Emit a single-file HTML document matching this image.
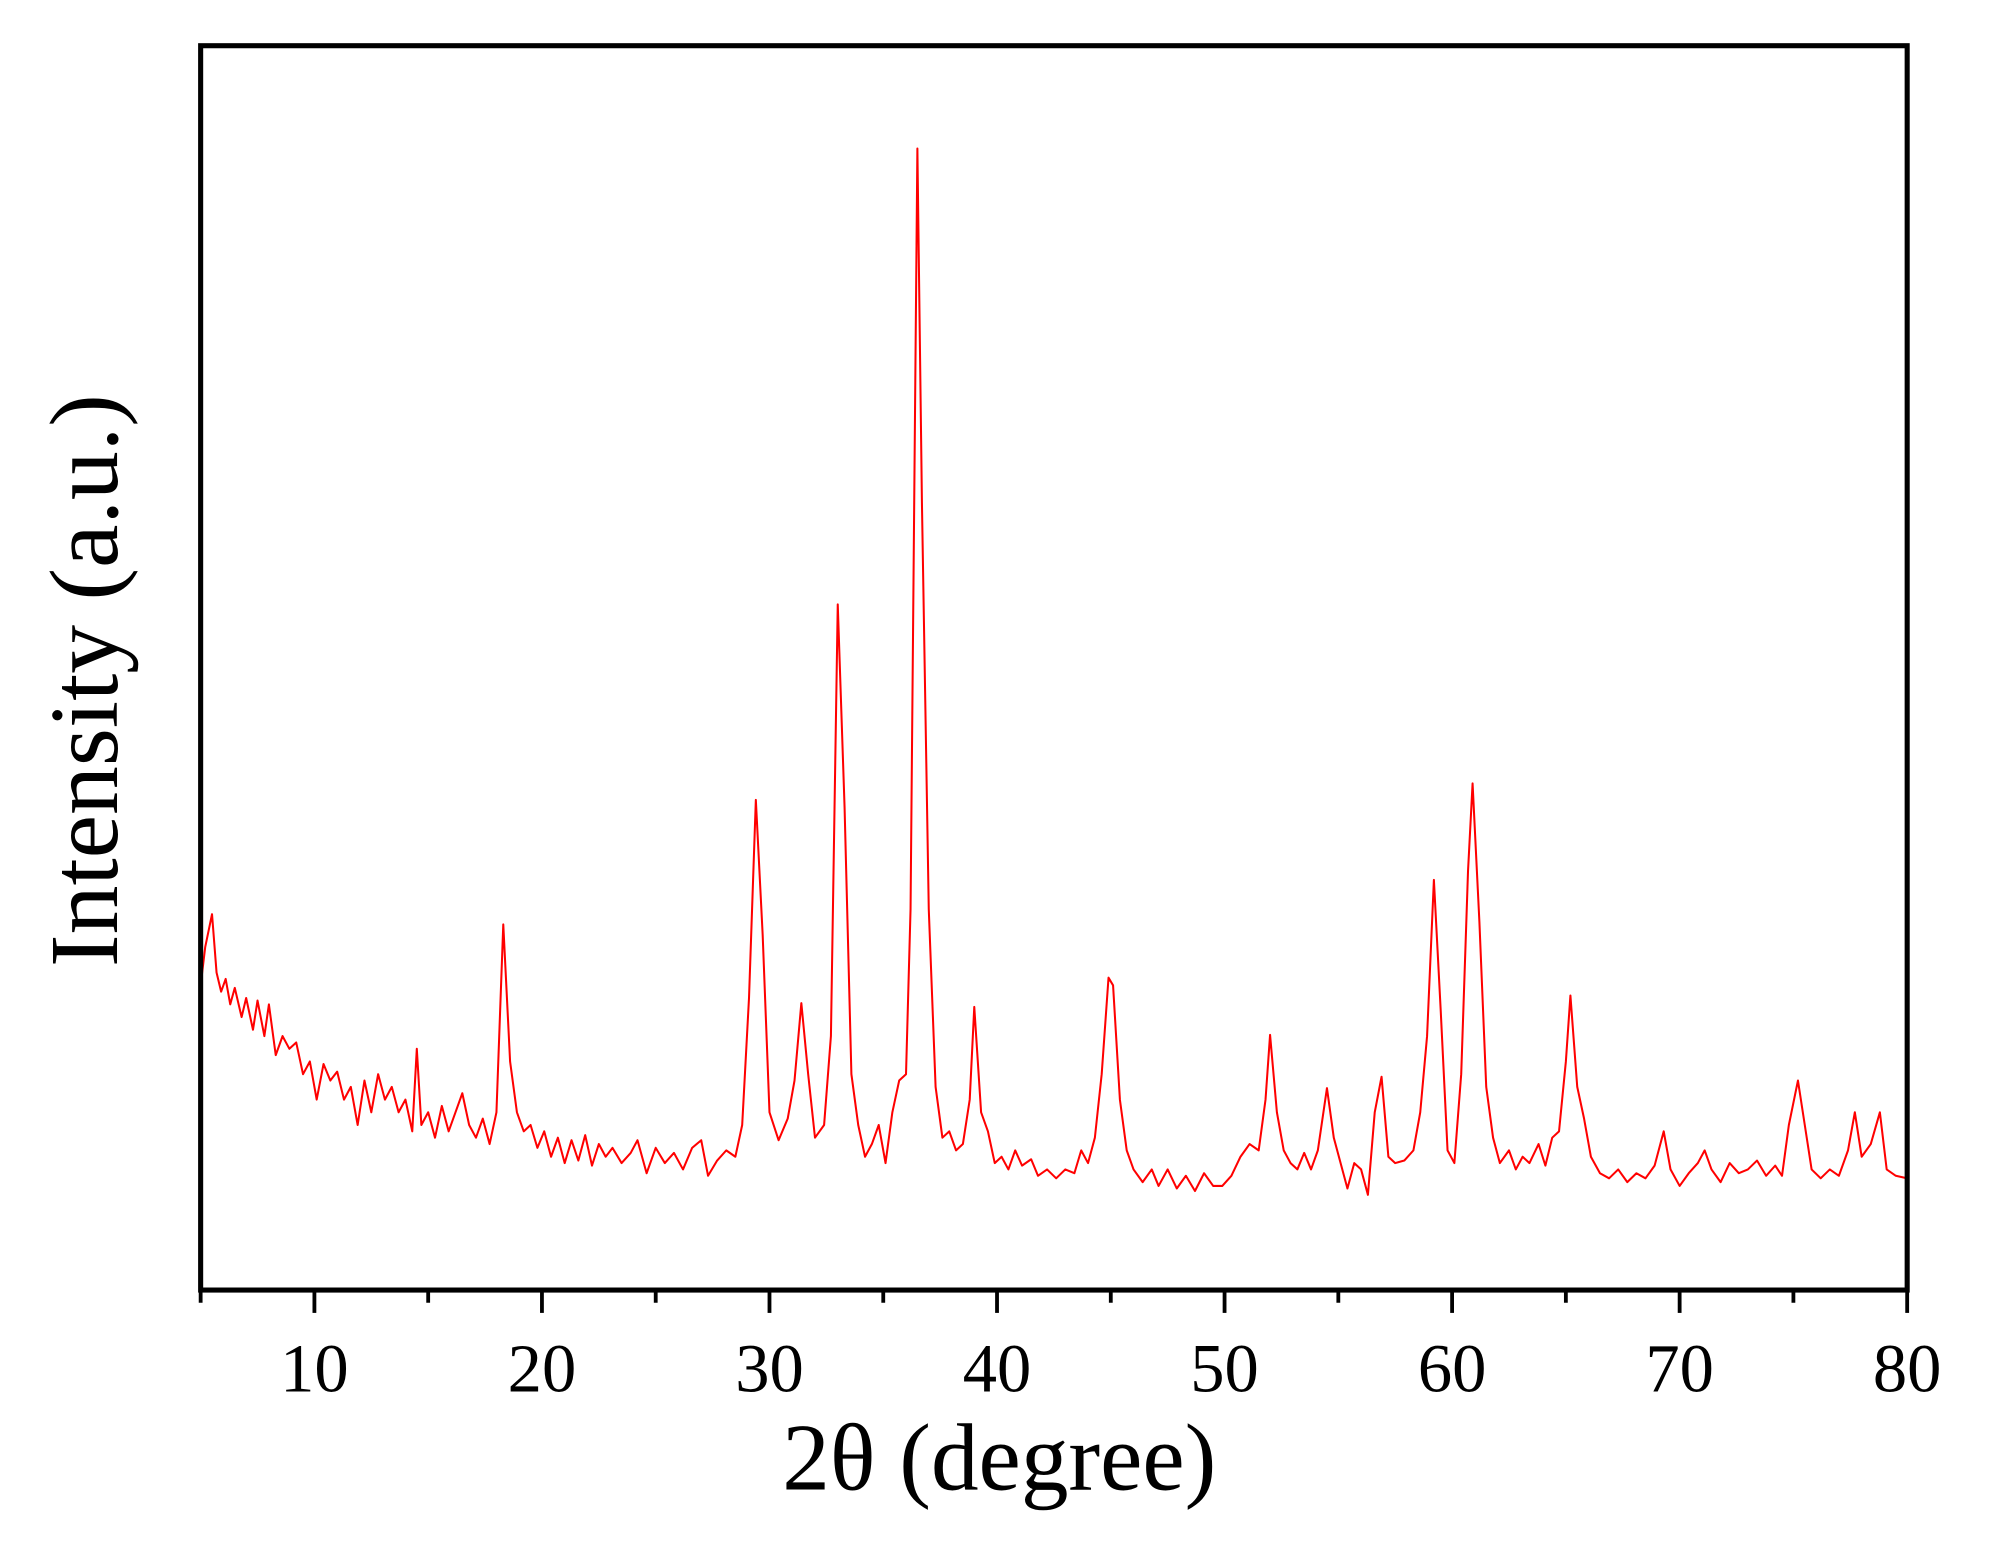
<!DOCTYPE html>
<html><head><meta charset="utf-8"><style>
html,body{margin:0;padding:0;background:#fff;}
svg{display:block;}
text{font-family:"Liberation Serif",serif;fill:#000;}
</style></head><body>
<svg id="chart" width="1991" height="1544" viewBox="0 0 1568 1216" xmlns="http://www.w3.org/2000/svg">
<g id="ticks"></g>
<path id="series" fill="none" stroke="#ff0000" stroke-width="1.6" stroke-linejoin="round"/>
<rect x="158" y="36" width="1344" height="980" fill="none" stroke="#000" stroke-width="4"/>
<text x="787" y="1173" font-size="75" text-anchor="middle">2θ (degree)</text>
<text transform="translate(92,536) rotate(-90)" font-size="77" text-anchor="middle">Intensity (a.u.)</text>
</svg>
<script>
const twoTheta=[5.0,5.2,5.5,5.7,5.9,6.1,6.3,6.5,6.8,7.0,7.3,7.5,7.8,8.0,8.3,8.6,8.9,9.2,9.5,9.8,10.1,10.4,10.7,11.0,11.3,11.6,11.9,12.2,12.5,12.8,13.1,13.4,13.7,14.0,14.3,14.5,14.7,15.0,15.3,15.6,15.9,16.2,16.5,16.8,17.1,17.4,17.7,18.0,18.3,18.6,18.9,19.2,19.5,19.8,20.1,20.4,20.7,21.0,21.3,21.6,21.9,22.2,22.5,22.8,23.1,23.5,23.9,24.2,24.6,25.0,25.4,25.8,26.2,26.6,27.0,27.3,27.7,28.1,28.5,28.8,29.1,29.4,29.7,30.0,30.4,30.8,31.1,31.4,31.7,32.0,32.4,32.7,33.0,33.3,33.6,33.9,34.2,34.5,34.8,35.1,35.4,35.7,36.0,36.2,36.5,36.7,37.0,37.3,37.6,37.9,38.2,38.5,38.8,39.0,39.3,39.6,39.9,40.2,40.5,40.8,41.1,41.5,41.8,42.2,42.6,43.0,43.4,43.7,44.0,44.3,44.6,44.9,45.1,45.4,45.7,46.0,46.4,46.8,47.1,47.5,47.9,48.3,48.7,49.1,49.5,49.9,50.3,50.7,51.1,51.5,51.8,52.0,52.3,52.6,52.9,53.2,53.5,53.8,54.1,54.5,54.8,55.1,55.4,55.7,56.0,56.3,56.6,56.9,57.2,57.5,57.9,58.3,58.6,58.9,59.2,59.5,59.8,60.1,60.4,60.7,60.9,61.2,61.5,61.8,62.1,62.5,62.8,63.1,63.4,63.8,64.1,64.4,64.7,65.0,65.2,65.5,65.8,66.1,66.5,66.9,67.3,67.7,68.1,68.5,68.9,69.3,69.6,70.0,70.4,70.8,71.1,71.4,71.8,72.2,72.6,73.0,73.4,73.8,74.2,74.5,74.8,75.2,75.5,75.8,76.2,76.6,77.0,77.4,77.7,78.0,78.4,78.8,79.1,79.5,80.0];
const intensity=[240,270,296,250,235,245,225,238,215,230,205,228,200,225,185,200,190,195,170,180,150,178,165,172,150,160,130,165,140,170,150,160,140,150,125,190,130,140,120,145,125,140,155,130,120,135,115,140,288,180,140,125,130,112,125,105,120,100,118,102,122,98,115,105,112,100,108,118,92,112,100,108,95,112,118,90,102,110,105,130,230,386,280,140,118,135,165,226,170,120,130,200,540,380,170,130,105,115,130,100,140,165,170,300,899,620,300,160,120,125,110,115,150,223,140,125,100,105,95,110,98,103,90,95,88,95,92,110,100,120,170,246,240,150,110,95,85,95,82,95,80,90,78,92,82,82,90,105,115,110,150,201,140,110,100,95,108,95,110,159,120,100,80,100,95,75,140,168,105,100,102,110,140,200,323,220,110,100,170,330,399,290,160,120,100,110,95,105,100,115,98,120,125,180,232,160,135,105,92,88,95,85,92,88,98,125,95,82,92,100,110,95,85,100,92,95,102,90,98,90,130,165,130,95,88,95,90,110,140,105,115,140,95,90,88];
const majorTicks=[10,20,30,40,50,60,70,80];
const tickLabels=["10","20","30","40","50","60","70","80"];
const minorTicks=[5,15,25,35,45,55,65,75];

const X0=158, XSCALE=17.92, YBASE=1016;
function xPos(v){return X0+(v-5)*XSCALE;}
function yPos(v){return YBASE-v;}

const NS="http://www.w3.org/2000/svg";
let d="";
for(let i=0;i<twoTheta.length;i++){d+=(i?"L":"M")+xPos(twoTheta[i]).toFixed(2)+" "+yPos(intensity[i]).toFixed(2);}
document.getElementById("series").setAttribute("d",d);

const g=document.getElementById("ticks");
majorTicks.forEach((t,i)=>{
  const l=document.createElementNS(NS,"line");
  
  
  l.setAttribute("x1",xPos(t));l.setAttribute("x2",xPos(t));
  l.setAttribute("y1",1016);l.setAttribute("y2",1034);
  l.setAttribute("stroke","#000");l.setAttribute("stroke-width","3");
  g.appendChild(l);
  const tx=document.createElementNS(NS,"text");
  
  
  tx.setAttribute("x",xPos(t));tx.setAttribute("y",1096);
  tx.setAttribute("font-size","54");tx.setAttribute("text-anchor","middle");
  tx.textContent=tickLabels[i];
  g.appendChild(tx);
});
minorTicks.forEach(t=>{
  const l=document.createElementNS(NS,"line");
  
  
  l.setAttribute("x1",xPos(t));l.setAttribute("x2",xPos(t));
  l.setAttribute("y1",1016);l.setAttribute("y2",1026);
  l.setAttribute("stroke","#000");l.setAttribute("stroke-width","3");
  g.appendChild(l);
});
</script>
</body></html>
